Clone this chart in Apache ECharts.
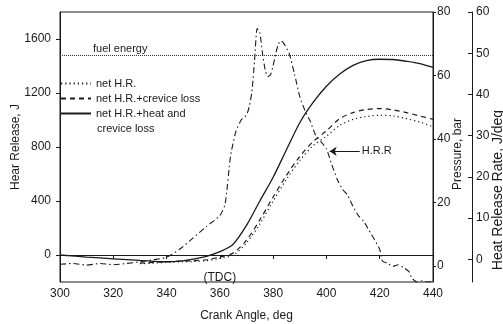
<!DOCTYPE html>
<html>
<head>
<meta charset="utf-8">
<script src="https://cdn.jsdelivr.net/npm/echarts@6/dist/echarts.min.js"></script>
<style>
  html, body { margin: 0; padding: 0; background: #fff; }
  #main { width: 503px; height: 324px; }
</style>
</head>
<body>
<div id="main"></div>
<script>
// crank angle grid for the three heat release curves
const hrAngles = [300, 310, 320, 330, 340, 345, 350, 355, 360, 365, 370, 375, 380, 385, 390, 395, 400, 405, 410, 415, 420, 425, 430, 435, 440]
// net H.R. + heat and crevice loss (solid)
const hrHeatCrevice = [0, -15, -28, -40, -50, -45, -30, -10, 25, 80, 220, 400, 576, 780, 980, 1130, 1250, 1340, 1405, 1440, 1450, 1448, 1435, 1418, 1390]
// net H.R. + crevice loss (dashed)
const hrCrevice = [null, null, null, -60, -50, -45, -42, -35, -15, 15, 110, 260, 430, 590, 730, 840, 920, 1010, 1055, 1078, 1085, 1075, 1055, 1030, 1005]
// net H.R. (dotted)
const hrNet = [null, null, null, -65, -55, -50, -48, -42, -25, 0, 90, 230, 400, 560, 700, 810, 880, 960, 1005, 1025, 1035, 1030, 1010, 985, 950]

// heat release rate, J/deg
const hrrAngles = [300, 305, 310, 315, 320, 325, 330, 335, 340, 345, 350, 355, 360, 362, 364, 366, 368, 370, 371, 372, 373, 374, 375, 376, 377, 378, 379, 380, 381, 382, 383, 384, 386, 388, 390, 392, 394, 396, 398, 400, 402, 404, 406, 408, 410, 412, 414, 416, 418, 420, 421, 423, 425, 427, 429, 431, 432, 434, 436, 438, 440]
const hrrValues = [-1.2, -1.0, -1.4, -1.0, -1.3, -1.0, -0.6, -0.1, 0.5, 2.5, 5.2, 8, 10.6, 13.5, 25, 31, 33.8, 35, 37, 40.5, 48, 56, 55, 50, 46, 44.3, 44.8, 47, 50, 52.3, 53, 52.4, 50, 45, 39.5, 36, 33.4, 30, 28.5, 26.8, 23, 19.5, 17, 15.5, 12.8, 10.6, 9.2, 7, 4.8, 2.4, -0.4, -1, -1.7, -1.3, -2, -3, -4.5, -5.5, -5.2, -5.5, -5.3]

const fuelEnergy = 1480
const hrTicks = [0, 400, 800, 1200, 1600]
const pressureTicks = [0, 20, 40, 60, 80]
const hrrTicks = [0, 10, 20, 30, 40, 50, 60]

const ink = '#1a1a1a'
const font = 'Liberation Sans, Arial, sans-serif'

const pairs = (xs, ys) => xs.map((x, i) => [x, ys[i]])

const chart = echarts.init(document.getElementById('main'))

const labelStyle = { color: ink, fontSize: 12, fontFamily: font }
const plain = v => String(v)

const option = {
  animation: false,
  backgroundColor: '#fff',
  grid: {
    left: 60, right: 70, top: 12, bottom: 42,
    outerBoundsMode: 'none',
    show: true, borderColor: ink, borderWidth: 1
  },
  legend: {
    orient: 'vertical',
    left: 60,
    top: 78,
    padding: 0,
    itemWidth: 30,
    itemHeight: 8,
    itemGap: 4,
    itemStyle: { opacity: 0 },
    textStyle: { color: ink, fontSize: 11, fontFamily: font },
    formatter: name => name.replace(' crevice loss', ''),
    data: ['net H.R.', 'net H.R.+crevice loss', 'net H.R.+heat and crevice loss']
  },
  // second line of the last legend entry
  graphic: [{
    type: 'text',
    left: 97,
    top: 123,
    style: { text: 'crevice loss', fill: ink, font: '11px ' + font }
  }],
  xAxis: {
    type: 'value',
    min: 300,
    max: 440,
    interval: 20,
    name: 'Crank Angle, deg',
    nameLocation: 'middle',
    nameGap: 28,
    nameMoveOverlap: false,
    nameTextStyle: labelStyle,
    axisLine: { lineStyle: { color: ink } },
    axisTick: { length: 4, lineStyle: { color: ink } },
    axisLabel: Object.assign({ margin: 6 }, labelStyle),
    splitLine: { show: false }
  },
  yAxis: [
    {
      type: 'value',
      min: -200,
      max: 1800,
      position: 'left',
      name: 'Hear Release, J',
      nameLocation: 'middle',
      nameRotate: 90,
      nameGap: 38,
      nameMoveOverlap: false,
      nameTextStyle: labelStyle,
      axisLine: { show: true, lineStyle: { color: ink } },
      axisTick: { show: true, length: 4, customValues: hrTicks, lineStyle: { color: ink } },
      axisLabel: Object.assign({ margin: 9, customValues: hrTicks, formatter: plain }, labelStyle),
      splitLine: { show: false }
    },
    {
      type: 'value',
      min: -5,
      max: 80,
      position: 'right',
      name: 'Pressure, bar',
      nameLocation: 'middle',
      nameRotate: 90,
      nameGap: 19,
      nameMoveOverlap: false,
      nameTextStyle: Object.assign({ padding: [0, 14, 0, 0] }, labelStyle),
      axisLine: { show: true, lineStyle: { color: ink } },
      axisTick: { show: true, length: 3, customValues: pressureTicks, lineStyle: { color: ink } },
      axisLabel: Object.assign({ margin: 4, customValues: pressureTicks, formatter: plain }, labelStyle),
      splitLine: { show: false }
    },
    {
      type: 'value',
      min: -5.5,
      max: 60,
      position: 'right',
      offset: 39,
      name: 'Heat Release Rate, J/deg',
      nameLocation: 'middle',
      nameRotate: 90,
      nameGap: 19,
      nameMoveOverlap: false,
      nameTextStyle: Object.assign({ padding: [0, 86, 0, 0] }, labelStyle, { fontSize: 14 }),
      axisLine: { show: true, lineStyle: { color: ink } },
      axisTick: { show: true, inside: true, length: 4, customValues: hrrTicks, lineStyle: { color: ink } },
      axisLabel: Object.assign({ margin: 4, customValues: hrrTicks, formatter: plain }, labelStyle),
      splitLine: { show: false }
    }
  ],
  series: [
    {
      name: 'net H.R.',
      type: 'line',
      yAxisIndex: 0,
      symbol: 'none',
      smooth: 0.3,
      color: ink,
      lineStyle: { color: ink, width: 1.2, type: [1.2, 3] },
      data: pairs(hrAngles, hrNet)
    },
    {
      name: 'net H.R.+crevice loss',
      type: 'line',
      yAxisIndex: 0,
      symbol: 'none',
      smooth: 0.3,
      color: ink,
      lineStyle: { color: ink, width: 1.2, type: [5, 4] },
      data: pairs(hrAngles, hrCrevice)
    },
    {
      name: 'net H.R.+heat and crevice loss',
      type: 'line',
      yAxisIndex: 0,
      symbol: 'none',
      smooth: 0.3,
      color: ink,
      lineStyle: { color: ink, width: 1.3 },
      data: pairs(hrAngles, hrHeatCrevice),
      markLine: {
        silent: true,
        symbol: 'none',
        lineStyle: { color: '#333', width: 1, type: [1, 1] },
        label: {
          position: 'insideStartTop',
          formatter: 'fuel energy',
          padding: [0, 0, 0, 32],
          distance: 1,
          color: ink,
          fontSize: 11,
          fontFamily: font
        },
        data: [{ yAxis: fuelEnergy }]
      },
      markPoint: {
        silent: true,
        symbol: 'circle',
        symbolSize: 0,
        label: { show: true, position: 'inside', formatter: '(TDC)', color: ink, fontSize: 12, fontFamily: font },
        data: [{ coord: [360, -165] }]
      }
    },
    {
      name: 'H.R.R',
      type: 'line',
      yAxisIndex: 2,
      symbol: 'none',
      smooth: 0.2,
      color: ink,
      lineStyle: { color: ink, width: 1.1, type: [6, 3, 1.5, 3] },
      data: pairs(hrrAngles, hrrValues),
      markLine: {
        silent: true,
        symbol: ['none', 'arrow'],
        symbolSize: 7,
        lineStyle: { color: ink, width: 1, type: 'solid' },
        label: { show: true, position: 'start', distance: 2, formatter: 'H.R.R', color: ink, fontSize: 11, fontFamily: font },
        data: [[{ coord: [412.5, 26.2] }, { coord: [401.2, 26.2] }]]
      }
    }
  ]
}

chart.setOption(option)
</script>
</body>
</html>
